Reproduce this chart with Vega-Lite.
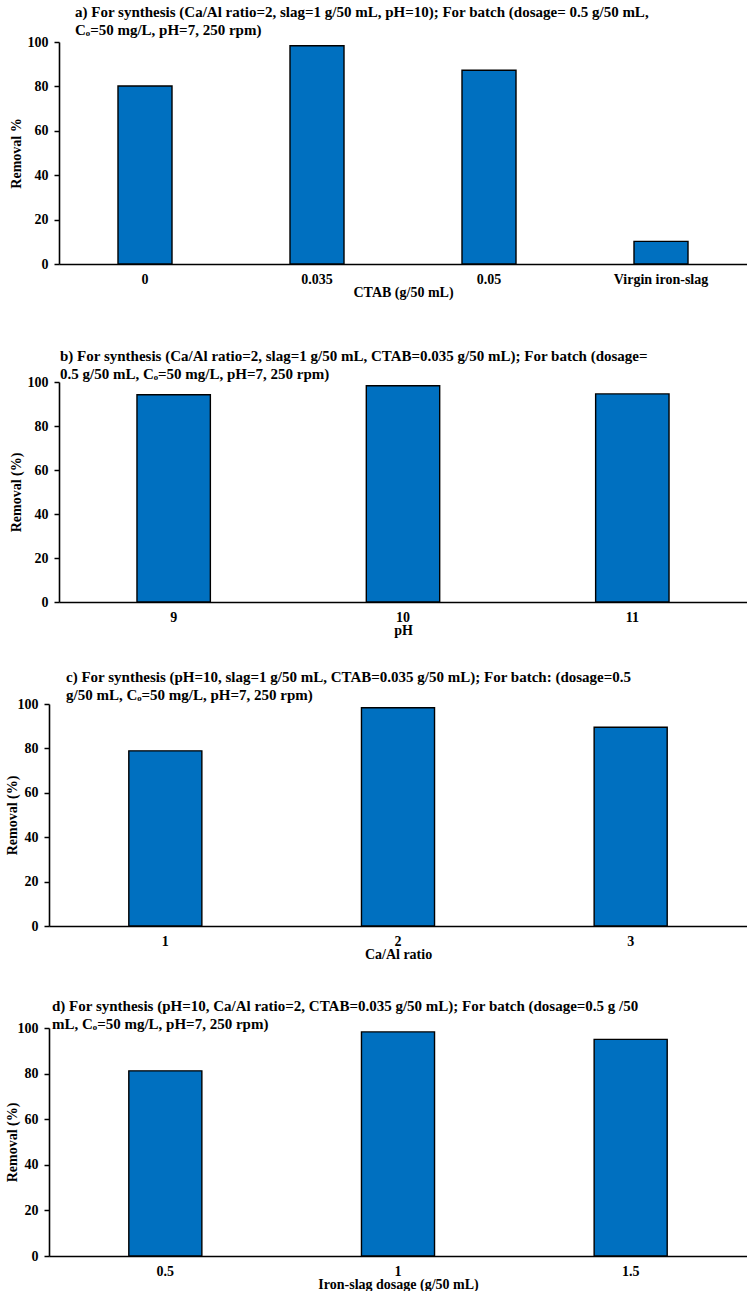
{
  "$schema": "https://vega.github.io/schema/vega-lite/v6.json",
  "padding": {"left": 5, "top": 5, "right": 0, "bottom": 0},
  "background": "white",
  "config": {
    "view": {"stroke": null},
    "font": "Liberation Serif",
    "axis": {
      "labelFont": "Liberation Serif",
      "labelFontWeight": "bold",
      "labelFontSize": 14,
      "labelColor": "black",
      "titleFont": "Liberation Serif",
      "titleFontWeight": "bold",
      "titleFontSize": 14,
      "titleColor": "black",
      "domainColor": "black",
      "domainWidth": 1.6,
      "tickColor": "black",
      "tickWidth": 1.5,
      "grid": false
    },
    "axisX": {"ticks": false, "labelAngle": 0, "labelPadding": 8, "titlePadding": -1},
    "axisY": {"tickSize": 5, "labelPadding": 6, "values": [0, 20, 40, 60, 80, 100]},
    "title": {
      "font": "Liberation Serif",
      "fontSize": 15,
      "fontWeight": "bold",
      "color": "black",
      "anchor": "start",
      "frame": "group",
      "lineHeight": 18
    },
    "bar": {"fill": "#0070C0", "stroke": "black", "strokeWidth": 1.4}
  },
  "datasets": {
    "a": [
      {"cat": "0", "removal": 80.2},
      {"cat": "0.035", "removal": 98.3},
      {"cat": "0.05", "removal": 87.3},
      {"cat": "Virgin iron-slag", "removal": 10.2}
    ],
    "b": [
      {"cat": "9", "removal": 94.2},
      {"cat": "10", "removal": 98.3},
      {"cat": "11", "removal": 94.6}
    ],
    "c": [
      {"cat": "1", "removal": 78.9},
      {"cat": "2", "removal": 98.3},
      {"cat": "3", "removal": 89.5}
    ],
    "d": [
      {"cat": "0.5", "removal": 81.2},
      {"cat": "1", "removal": 98.3},
      {"cat": "1.5", "removal": 95.0}
    ]
  },
  "vconcat": [
    {
      "title": {"text": ["a) For synthesis (Ca/Al ratio=2, slag=1 g/50 mL, pH=10); For batch (dosage= 0.5 g/50 mL,", "Cₒ=50 mg/L, pH=7, 250 rpm)"], "dx": 26, "offset": -3},
      "data": {"name": "a"},
      "width": 698,
      "height": 222,
      "mark": "bar",
      "encoding": {
        "x": {"field": "cat", "type": "nominal", "sort": null, "title": ["CTAB (g/50 mL)", ""], "axis": {"titleLineHeight": 17}, "scale": {"range": [10, 698], "paddingInner": 0.686, "paddingOuter": 0.343}},
        "y": {"field": "removal", "type": "quantitative", "title": "Removal %", "axis": {"offset": -10, "titlePadding": 3.5}, "scale": {"domain": [0, 100]}}
      }
    },
    {
      "title": {"text": ["b) For synthesis (Ca/Al ratio=2, slag=1 g/50 mL, CTAB=0.035 g/50 mL); For batch (dosage=", "0.5 g/50 mL, Cₒ=50 mg/L, pH=7, 250 rpm)"], "dx": 11, "offset": -7},
      "data": {"name": "b"},
      "width": 698,
      "height": 220,
      "mark": "bar",
      "encoding": {
        "x": {"field": "cat", "type": "nominal", "sort": null, "title": "pH", "scale": {"range": [10, 698], "paddingInner": 0.68, "paddingOuter": 0.34}},
        "y": {"field": "removal", "type": "quantitative", "title": "Removal (%)", "axis": {"offset": -10, "titlePadding": 3.5}, "scale": {"domain": [0, 100]}}
      }
    },
    {
      "title": {"text": ["c) For synthesis (pH=10, slag=1 g/50 mL, CTAB=0.035 g/50 mL); For batch: (dosage=0.5", "g/50 mL, Cₒ=50 mg/L, pH=7, 250 rpm)"], "dx": 17, "offset": -6},
      "data": {"name": "c"},
      "width": 698,
      "height": 222,
      "mark": "bar",
      "encoding": {
        "x": {"field": "cat", "type": "nominal", "sort": null, "title": ["Ca/Al ratio", ""], "axis": {"titleLineHeight": 5}, "scale": {"paddingInner": 0.686, "paddingOuter": 0.343}},
        "y": {"field": "removal", "type": "quantitative", "title": "Removal (%)", "axis": {"titlePadding": -2}, "scale": {"domain": [0, 100]}}
      }
    },
    {
      "title": {"text": ["d) For synthesis (pH=10, Ca/Al ratio=2, CTAB=0.035 g/50 mL); For batch (dosage=0.5 g /50", "mL, Cₒ=50 mg/L, pH=7, 250 rpm)"], "dx": 3, "offset": -11},
      "data": {"name": "d"},
      "width": 698,
      "height": 228,
      "mark": "bar",
      "encoding": {
        "x": {"field": "cat", "type": "nominal", "sort": null, "title": "Iron-slag dosage (g/50 mL)", "scale": {"paddingInner": 0.686, "paddingOuter": 0.343}},
        "y": {"field": "removal", "type": "quantitative", "title": "Removal (%)", "axis": {"titlePadding": -2}, "scale": {"domain": [0, 100]}}
      }
    }
  ],
  "spacing": 33
}
